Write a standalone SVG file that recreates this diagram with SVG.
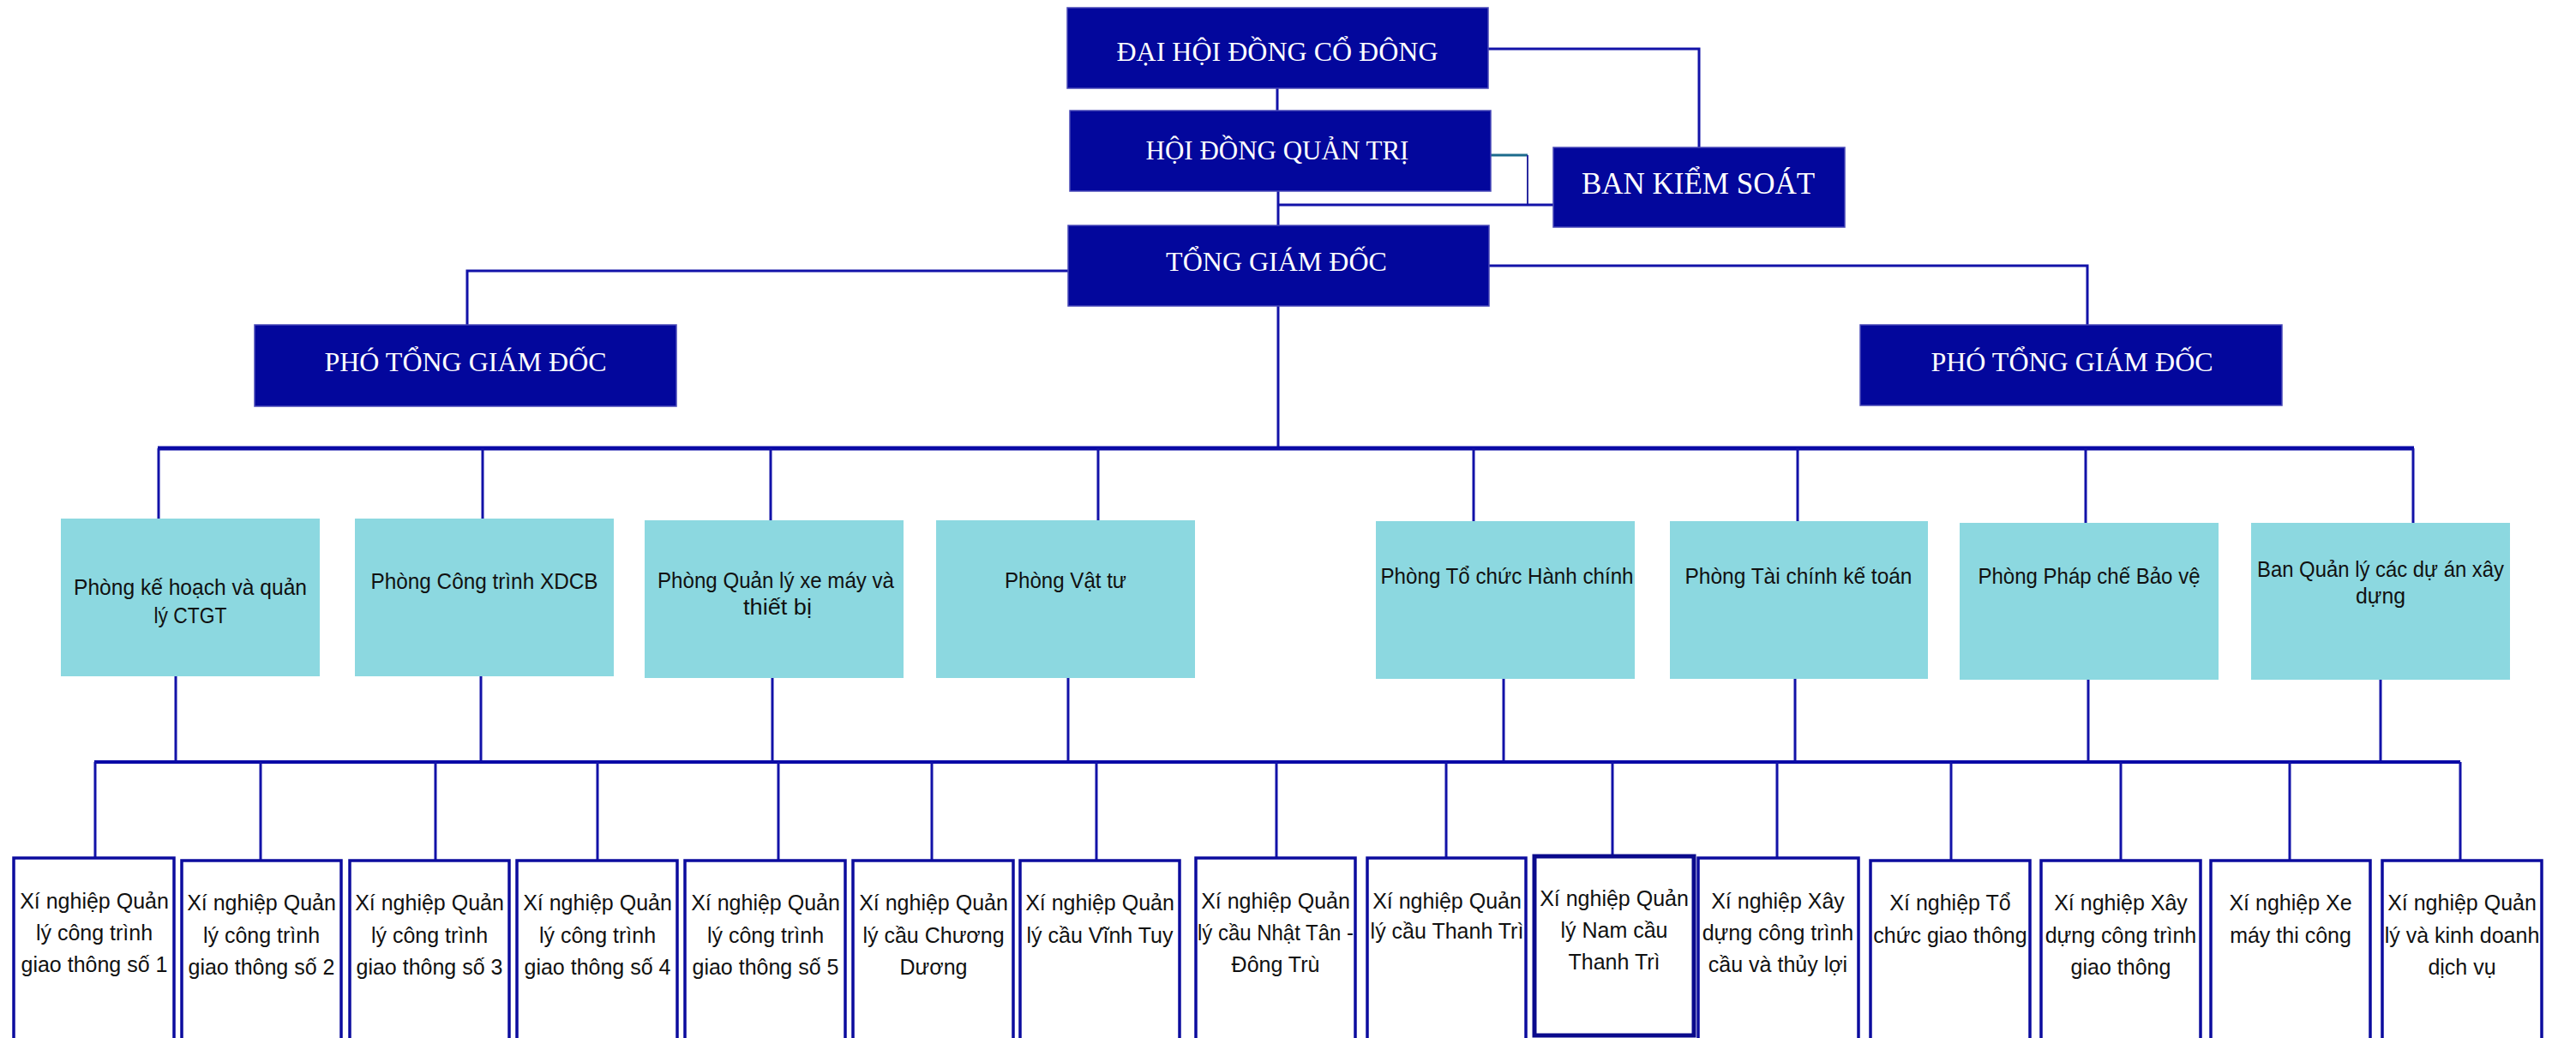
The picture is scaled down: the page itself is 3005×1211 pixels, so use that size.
<svg xmlns="http://www.w3.org/2000/svg" width="3005" height="1211" viewBox="0 0 3005 1211">
<style>
.dk{fill:#03079c;stroke:#4a4ab8;stroke-width:1.5}
.tl{fill:#8cd8e0}
.wb{fill:#fff;stroke:#0c0c9e;stroke-width:3.5}
.wb2{fill:#fff;stroke:#0a0a8c;stroke-width:5}
.ln{stroke:#1212a8;stroke-width:3;fill:none}
.bus{stroke:#0a0aa6;stroke-width:5;fill:none}
.tw{font-family:"Liberation Serif","Times New Roman",serif;font-size:32px;fill:#fff;text-anchor:middle}
.tb{font-family:"Liberation Sans",Arial,sans-serif;font-size:25px;fill:#111;text-anchor:middle}
</style>
<rect width="3005" height="1211" fill="#fff"/>
<g id="connectors">
<path class="ln" d="M1736,57 H1982 V172"/>
<path class="ln" d="M1490,103 V129"/>
<path d="M1739,181 H1782" stroke="#1c6b8c" stroke-width="3" fill="none"/>
<path d="M1782,181 V239" stroke="#2a2aa0" stroke-width="2" fill="none"/>
<path class="ln" d="M1491,239 H1812"/>
<path class="ln" d="M1491,223 V263"/>
<path class="ln" d="M1246,316 H545 V379"/>
<path class="ln" d="M1737,310 H2435 V379"/>
<path class="ln" d="M1491,357 V523"/>
<path class="bus" d="M184,523 H2816"/>
<path class="ln" d="M185,523 V605 M563,523 V605 M899,523 V607 M1281,523 V607 M1719,523 V608 M2097,523 V608 M2433,523 V610 M2815,523 V610"/>
<path class="ln" d="M205,789 V889 M561,789 V889 M901,791 V889 M1246,791 V889 M1754,792 V889 M2094,792 V889 M2436,793 V889 M2777,793 V889"/>
<path class="bus" d="M110,889 H2870" style="stroke-width:4"/>
<path class="ln" d="M111,889 V1001 M304,889 V1004 M508,889 V1004 M697,889 V1004 M908,889 V1004 M1087,889 V1004 M1279,889 V1004 M1489,889 V1001 M1687,889 V1001 M1881,889 V999 M2073,889 V1001 M2276,889 V1004 M2474,889 V1004 M2671,889 V1004 M2870,889 V1004"/>
</g>
<g id="dhdcd"><rect class="dk" x="1245" y="9" width="491" height="94"/><text class="tw" x="1490" y="71">ĐẠI HỘI ĐỒNG CỔ ĐÔNG</text></g>
<g id="hdqt"><rect class="dk" x="1248" y="129" width="491" height="94"/><text class="tw" x="1490" y="186" style="font-size:31px">HỘI ĐỒNG QUẢN TRỊ</text></g>
<g id="bks"><rect class="dk" x="1812" y="172" width="340" height="93"/><text class="tw" x="1981" y="226" style="font-size:35px">BAN KIỂM SOÁT</text></g>
<g id="tgd"><rect class="dk" x="1246" y="263" width="491" height="94"/><text class="tw" x="1489" y="316">TỔNG GIÁM ĐỐC</text></g>
<g id="ptgd1"><rect class="dk" x="297" y="379" width="492" height="95"/><text class="tw" x="543" y="433">PHÓ TỔNG GIÁM ĐỐC</text></g>
<g id="ptgd2"><rect class="dk" x="2170" y="379" width="492" height="94"/><text class="tw" x="2417" y="433">PHÓ TỔNG GIÁM ĐỐC</text></g>
<g id="d1"><rect class="tl" x="71" y="605" width="302" height="184"/><text class="tb" x="222" y="694" textLength="272" lengthAdjust="spacingAndGlyphs">Phòng kế hoạch và quản</text><text class="tb" x="222" y="727" textLength="85" lengthAdjust="spacingAndGlyphs">lý CTGT</text></g>
<g id="d2"><rect class="tl" x="414" y="605" width="302" height="184"/><text class="tb" x="565" y="687" textLength="265" lengthAdjust="spacingAndGlyphs">Phòng Công trình XDCB</text></g>
<g id="d3"><rect class="tl" x="752" y="607" width="302" height="184"/><text class="tb" x="905" y="686" textLength="276" lengthAdjust="spacingAndGlyphs">Phòng Quản lý xe máy và</text><text class="tb" x="907" y="717" textLength="80" lengthAdjust="spacingAndGlyphs">thiết bị</text></g>
<g id="d4"><rect class="tl" x="1092" y="607" width="302" height="184"/><text class="tb" x="1243" y="686" textLength="142" lengthAdjust="spacingAndGlyphs">Phòng Vật tư</text></g>
<g id="d5"><rect class="tl" x="1605" y="608" width="302" height="184"/><text class="tb" x="1758" y="681" textLength="295" lengthAdjust="spacingAndGlyphs">Phòng Tổ chức Hành chính</text></g>
<g id="d6"><rect class="tl" x="1948" y="608" width="301" height="184"/><text class="tb" x="2098" y="681" textLength="265" lengthAdjust="spacingAndGlyphs">Phòng Tài chính kế toán</text></g>
<g id="d7"><rect class="tl" x="2286" y="610" width="302" height="183"/><text class="tb" x="2437" y="681" textLength="259" lengthAdjust="spacingAndGlyphs">Phòng Pháp chế Bảo vệ</text></g>
<g id="d8"><rect class="tl" x="2626" y="610" width="302" height="183"/><text class="tb" x="2777" y="673" textLength="288" lengthAdjust="spacingAndGlyphs">Ban Quản lý các dự án xây</text><text class="tb" x="2777" y="704" textLength="58" lengthAdjust="spacingAndGlyphs">dựng</text></g>
<g id="x1"><rect class="wb" x="16" y="1001" width="187" height="230"/><text class="tb" x="110" y="1060">Xí nghiệp Quản</text><text class="tb" x="110" y="1097">lý công trình</text><text class="tb" x="110" y="1134">giao thông số 1</text></g>
<g id="x2"><rect class="wb" x="212" y="1004" width="186" height="230"/><text class="tb" x="305" y="1062">Xí nghiệp Quản</text><text class="tb" x="305" y="1100">lý công trình</text><text class="tb" x="305" y="1137">giao thông số 2</text></g>
<g id="x3"><rect class="wb" x="408" y="1004" width="186" height="230"/><text class="tb" x="501" y="1062">Xí nghiệp Quản</text><text class="tb" x="501" y="1100">lý công trình</text><text class="tb" x="501" y="1137">giao thông số 3</text></g>
<g id="x4"><rect class="wb" x="603" y="1004" width="187" height="230"/><text class="tb" x="697" y="1062">Xí nghiệp Quản</text><text class="tb" x="697" y="1100">lý công trình</text><text class="tb" x="697" y="1137">giao thông số 4</text></g>
<g id="x5"><rect class="wb" x="799" y="1004" width="187" height="230"/><text class="tb" x="893" y="1062">Xí nghiệp Quản</text><text class="tb" x="893" y="1100">lý công trình</text><text class="tb" x="893" y="1137">giao thông số 5</text></g>
<g id="x6"><rect class="wb" x="995" y="1004" width="187" height="230"/><text class="tb" x="1089" y="1062">Xí nghiệp Quản</text><text class="tb" x="1089" y="1100">lý cầu Chương</text><text class="tb" x="1089" y="1137">Dương</text></g>
<g id="x7"><rect class="wb" x="1190" y="1004" width="186" height="230"/><text class="tb" x="1283" y="1062">Xí nghiệp Quản</text><text class="tb" x="1283" y="1100">lý cầu Vĩnh Tuy</text></g>
<g id="x8"><rect class="wb" x="1395" y="1001" width="186" height="230"/><text class="tb" x="1488" y="1060">Xí nghiệp Quản</text><text class="tb" x="1488" y="1097" textLength="182" lengthAdjust="spacingAndGlyphs">lý cầu Nhật Tân -</text><text class="tb" x="1488" y="1134">Đông Trù</text></g>
<g id="x9"><rect class="wb" x="1595" y="1001" width="185" height="230"/><text class="tb" x="1688" y="1060">Xí nghiệp Quản</text><text class="tb" x="1688" y="1095">lý cầu Thanh Trì</text></g>
<g id="x10"><rect class="wb2" x="1790" y="999" width="186" height="209"/><text class="tb" x="1883" y="1057">Xí nghiệp Quản</text><text class="tb" x="1883" y="1094">lý Nam cầu</text><text class="tb" x="1883" y="1131">Thanh Trì</text></g>
<g id="x11"><rect class="wb" x="1981" y="1001" width="187" height="230"/><text class="tb" x="2074" y="1060">Xí nghiệp Xây</text><text class="tb" x="2074" y="1097">dựng công trình</text><text class="tb" x="2074" y="1134">cầu và thủy lợi</text></g>
<g id="x12"><rect class="wb" x="2182" y="1004" width="186" height="230"/><text class="tb" x="2275" y="1062">Xí nghiệp Tổ</text><text class="tb" x="2275" y="1100">chức giao thông</text></g>
<g id="x13"><rect class="wb" x="2381" y="1004" width="186" height="230"/><text class="tb" x="2474" y="1062">Xí nghiệp Xây</text><text class="tb" x="2474" y="1100">dựng công trình</text><text class="tb" x="2474" y="1137">giao thông</text></g>
<g id="x14"><rect class="wb" x="2579" y="1004" width="186" height="230"/><text class="tb" x="2672" y="1062">Xí nghiệp Xe</text><text class="tb" x="2672" y="1100">máy thi công</text></g>
<g id="x15"><rect class="wb" x="2779" y="1004" width="186" height="230"/><text class="tb" x="2872" y="1062">Xí nghiệp Quản</text><text class="tb" x="2872" y="1100">lý và kinh doanh</text><text class="tb" x="2872" y="1137">dịch vụ</text></g>
</svg>
